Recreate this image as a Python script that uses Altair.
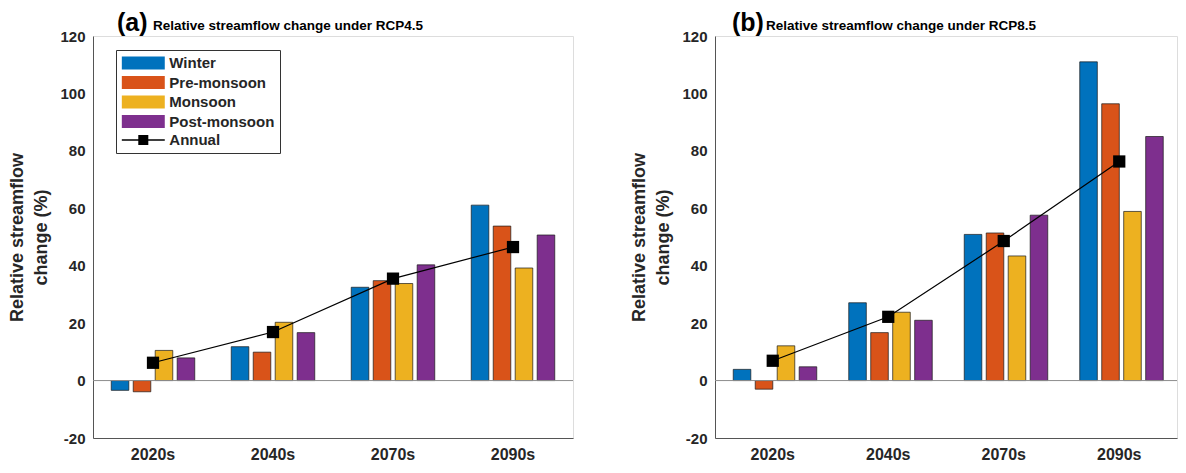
import altair as alt
import pandas as pd

# ---------------- data ----------------
periods = ["2020s", "2040s", "2070s", "2090s"]
seasons = ["Winter", "Pre-monsoon", "Monsoon", "Post-monsoon"]
series = seasons + ["Annual"]
colors = ["#0072BD", "#D95319", "#EDB120", "#7E2F8E", "#000000"]

# RCP4.5 relative streamflow change (%)
rcp45_winter = [-3.4, 11.8, 32.5, 61.1]
rcp45_premonsoon = [-3.9, 9.9, 34.8, 53.8]
rcp45_monsoon = [10.5, 20.3, 33.8, 39.2]
rcp45_postmonsoon = [7.9, 16.7, 40.3, 50.7]
rcp45_annual = [6.2, 16.9, 35.5, 46.5]

# RCP8.5 relative streamflow change (%)
rcp85_winter = [3.9, 27.1, 50.9, 111.0]
rcp85_premonsoon = [-3.0, 16.7, 51.4, 96.4]
rcp85_monsoon = [12.1, 23.8, 43.4, 58.9]
rcp85_postmonsoon = [4.8, 21.0, 57.6, 85.0]
rcp85_annual = [6.9, 22.2, 48.6, 76.3]

y_ticks = [-20, 0, 20, 40, 60, 80, 100, 120]

FONT = "Liberation Sans"
TXT = "#262626"
AXC = "#555555"

RECT_SYM = "M-3,-0.9H3V0.9H-3Z"
ANNUAL_SYM = "M-3,-0.1H3V0.1H-3Z M-0.7,-0.7H0.7V0.7H-0.7Z"

PLOT_H = 402


def long_df(vals_by_season):
    rows = []
    for s, vals in zip(seasons, vals_by_season):
        for p, v in zip(periods, vals):
            rows.append({"period": p, "season": s, "value": v})
    return pd.DataFrame(rows)


def panel(tag, title, season_vals, annual_vals, width, with_legend, tag_x, title_x):
    bars_df = long_df(season_vals)
    ann_df = pd.DataFrame({"period": periods, "value": annual_vals})

    x_axis = alt.Axis(title=None, labelAngle=0, labelFont=FONT, labelFontSize=16,
                      labelFontWeight="bold", labelColor=TXT, ticks=False,
                      labelPadding=8, domainColor=AXC, domainWidth=1)
    x = alt.X("period:N", sort=periods,
              scale=alt.Scale(paddingInner=0, paddingOuter=0), axis=x_axis)
    y_axis = alt.Axis(values=y_ticks, grid=False, ticks=False, labelPadding=8,
                      labelExpr="'' + datum.value",
                      labelFont=FONT, labelFontSize=15, labelFontWeight="bold",
                      labelColor=TXT, domainColor=AXC, domainWidth=1,
                      title=["Relative streamflow", "change (%)"],
                      titleFont=FONT, titleFontSize=18, titleFontWeight="bold",
                      titleColor=TXT, titleLineHeight=24, titlePadding=9)
    y = alt.Y("value:Q", scale=alt.Scale(domain=[-20, 120], nice=False), axis=y_axis)

    color_scale = alt.Scale(domain=series, range=colors)
    if with_legend:
        legend = alt.Legend(title=None, orient="none", legendX=23, legendY=14,
                            direction="vertical", symbolSize=205, symbolOffset=14.3,
                            labelOffset=18, labelFont=FONT, labelFontSize=15,
                            labelFontWeight="bold", labelColor=TXT,
                            strokeColor="#333333", fillColor="white", padding=5,
                            rowPadding=1.5, symbolStrokeColor="#111111",
                            symbolStrokeWidth=0.8, symbolOpacity=1)
    else:
        legend = None

    bars = alt.Chart(bars_df).mark_bar(stroke="#1a1a1a", strokeWidth=0.7).encode(
        x=x,
        xOffset=alt.XOffset("season:N", sort=seasons,
                            scale=alt.Scale(paddingInner=0.2, paddingOuter=0.83)),
        y=y,
        y2=alt.datum(0),
        color=alt.Color("season:N", scale=color_scale, legend=legend),
    )

    zero = alt.Chart(pd.DataFrame({"z": [0]})).mark_rule(
        color="#8c8c8c", strokeWidth=1).encode(y=alt.datum(0))

    line = alt.Chart(ann_df).mark_line(color="black", strokeWidth=1.2).encode(
        x=alt.X("period:N", sort=periods), y=alt.Y("value:Q"))
    pts = alt.Chart(ann_df).mark_point(shape="square", filled=True, size=150,
                                       color="black", opacity=1).encode(
        x=alt.X("period:N", sort=periods), y=alt.Y("value:Q"))

    tag_txt = alt.Chart(pd.DataFrame({"t": [tag]})).mark_text(
        font=FONT, fontSize=25, fontWeight="bold", align="left",
        baseline="alphabetic", color="black").encode(
        x=alt.value(tag_x), y=alt.value(-5), text="t:N")
    title_txt = alt.Chart(pd.DataFrame({"t": [title]})).mark_text(
        font=FONT, fontSize=13.5, fontWeight="bold", align="left",
        baseline="alphabetic", color="black").encode(
        x=alt.value(title_x), y=alt.value(-6), text="t:N")

    layers = [bars, zero, line, pts, tag_txt, title_txt]
    if with_legend:
        leg_df = pd.DataFrame({"period": [periods[0]] * len(series),
                               "series": series, "value": [0] * len(series)})
        leg_layer = alt.Chart(leg_df).mark_point(opacity=0, filled=True).encode(
            x=alt.X("period:N", sort=periods),
            y=alt.Y("value:Q"),
            color=alt.Color("series:N", scale=color_scale, legend=legend),
            shape=alt.Shape("series:N",
                            scale=alt.Scale(domain=series,
                                            range=[RECT_SYM] * 4 + [ANNUAL_SYM]),
                            legend=legend),
        )
        layers.append(leg_layer)

    return alt.layer(*layers).properties(width=width, height=PLOT_H)


left = panel("(a)", "Relative streamflow change under RCP4.5",
             [rcp45_winter, rcp45_premonsoon, rcp45_monsoon, rcp45_postmonsoon],
             rcp45_annual, 480, True, 24, 60)
right = panel("(b)", "Relative streamflow change under RCP8.5",
              [rcp85_winter, rcp85_premonsoon, rcp85_monsoon, rcp85_postmonsoon],
              rcp85_annual, 462, False, 17, 51)

chart = alt.hconcat(left, right, spacing=56).properties(
    padding={"left": 0, "top": 2, "right": 0, "bottom": 0}
).configure_view(stroke=None).configure(background="white")

chart.save("out.html", embed_options={"renderer": "svg", "actions": False})
